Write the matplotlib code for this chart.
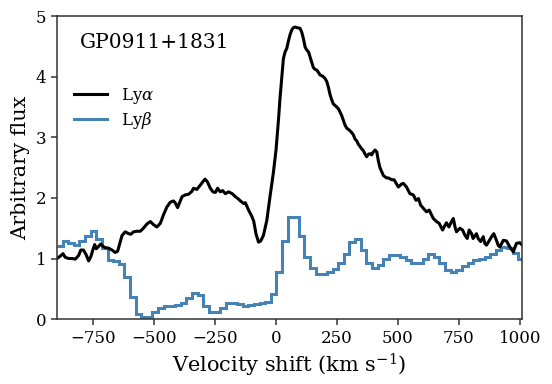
import matplotlib
matplotlib.use('Agg')
import matplotlib.pyplot as plt

# Ly-alpha profile (velocity in km/s, flux)
alpha_v = [-899, -885, -874, -865, -851, -837, -824, -810, -801, -790,
           -779, -769, -760, -751, -744, -738, -728, -719, -710, -701,
           -687, -673, -660, -650, -639, -632, -619, -605, -596, -585,
           -571, -557, -544, -530, -516, -503, -489, -475, -462, -448,
           -434, -421, -414, -404, -393, -386, -373, -359, -345, -339,
           -325, -311, -298, -291, -281, -270, -259, -249, -240, -229,
           -219, -208, -195, -180, -167, -160, -146, -134, -126, -113,
           -100, -92, -82, -72, -63, -52, -38, -25, -11, 0,
           10, 16, 23, 30, 37, 44, 50, 57, 64, 71,
           78, 85, 98, 105, 112, 119, 126, 133, 139, 146,
           153, 160, 167, 174, 180, 191, 201, 208, 215, 221,
           228, 235, 246, 256, 262, 269, 276, 283, 290, 300,
           310, 317, 324, 331, 337, 344, 351, 358, 365, 372,
           378, 385, 392, 399, 406, 413, 419, 426, 440, 453,
           460, 474, 484, 497, 502, 515, 522, 535, 549, 563,
           574, 584, 593, 604, 617, 628, 638, 645, 658, 669,
           683, 693, 699, 709, 720, 727, 734, 740, 754, 765,
           774, 784, 792, 802, 808, 822, 829, 839, 850, 856,
           863, 884, 893, 904, 911, 918, 932, 945, 959, 973,
           986, 1000, 1010]
alpha_f = [1.00, 1.04, 1.08, 1.02, 1.00, 1.00, 0.99, 1.05, 1.14, 1.14,
           1.06, 0.96, 1.03, 1.15, 1.23, 1.16, 1.20, 1.24, 1.20, 1.18,
           1.17, 1.14, 1.10, 1.12, 1.28, 1.38, 1.44, 1.41, 1.40, 1.44,
           1.45, 1.45, 1.50, 1.57, 1.61, 1.56, 1.52, 1.58, 1.72, 1.85,
           1.93, 1.95, 1.92, 1.84, 1.95, 2.02, 2.05, 2.06, 2.11, 2.16,
           2.14, 2.21, 2.28, 2.31, 2.26, 2.16, 2.10, 2.09, 2.16, 2.10,
           2.12, 2.07, 2.10, 2.07, 2.02, 2.00, 1.95, 1.91, 1.92, 1.80,
           1.70, 1.62, 1.40, 1.27, 1.29, 1.38, 1.63, 2.02, 2.42, 2.80,
           3.30, 3.64, 3.97, 4.30, 4.41, 4.47, 4.58, 4.69, 4.77, 4.81,
           4.82, 4.81, 4.80, 4.74, 4.63, 4.49, 4.44, 4.41, 4.33, 4.24,
           4.15, 4.12, 4.11, 4.07, 4.03, 4.01, 3.97, 3.92, 3.82, 3.71,
           3.62, 3.55, 3.51, 3.47, 3.42, 3.36, 3.28, 3.20, 3.15, 3.12,
           3.08, 3.04, 2.97, 2.94, 2.89, 2.85, 2.81, 2.78, 2.72, 2.68,
           2.72, 2.73, 2.71, 2.76, 2.79, 2.76, 2.62, 2.50, 2.37, 2.33,
           2.33, 2.30, 2.30, 2.21, 2.18, 2.23, 2.24, 2.18, 2.07, 2.05,
           1.96, 1.99, 1.88, 1.83, 1.77, 1.80, 1.72, 1.66, 1.61, 1.58,
           1.47, 1.55, 1.59, 1.52, 1.61, 1.66, 1.52, 1.44, 1.50, 1.47,
           1.39, 1.33, 1.47, 1.41, 1.33, 1.41, 1.33, 1.28, 1.36, 1.25,
           1.22, 1.36, 1.41, 1.30, 1.22, 1.19, 1.30, 1.29, 1.19, 1.11,
           1.25, 1.26, 1.22]

# Ly-beta binned profile (bin edges in km/s, flux per bin)
beta_edges = [-899, -876, -853, -830, -807, -784, -761, -737, -714, -691,
              -668, -645, -622, -599, -576, -553, -530, -507, -484, -461,
              -437, -414, -391, -368, -345, -322, -299, -276, -253, -230,
              -207, -184, -161, -137, -114, -91, -68, -45, -22, 1,
              24, 47, 70, 93, 116, 139, 163, 186, 209, 232,
              255, 278, 301, 324, 347, 370, 393, 417, 440, 463,
              486, 509, 532, 555, 578, 601, 624, 647, 670, 693,
              717, 740, 763, 786, 809, 832, 855, 878, 901, 924,
              947, 970, 993, 1016]
beta_f = [1.20, 1.29, 1.26, 1.22, 1.29, 1.37, 1.45, 1.33, 1.18, 0.98,
          0.96, 0.91, 0.70, 0.37, 0.08, 0.04, 0.04, 0.12, 0.19, 0.22,
          0.22, 0.24, 0.27, 0.35, 0.43, 0.39, 0.22, 0.12, 0.12, 0.19,
          0.27, 0.27, 0.25, 0.22, 0.23, 0.25, 0.26, 0.28, 0.42, 0.77,
          1.29, 1.69, 1.69, 1.37, 1.03, 0.84, 0.75, 0.75, 0.77, 0.82,
          0.92, 1.08, 1.28, 1.32, 1.14, 0.92, 0.84, 0.89, 0.99, 1.05,
          1.05, 1.02, 0.97, 0.92, 0.92, 1.00, 1.08, 1.03, 0.92, 0.81,
          0.77, 0.81, 0.87, 0.93, 0.97, 0.99, 1.02, 1.07, 1.14, 1.19,
          1.17, 1.09, 0.99]

plt.rcParams['font.family'] = 'DejaVu Serif'
plt.rcParams['mathtext.fontset'] = 'dejavuserif'

fig = plt.figure(figsize=(5.52, 3.84), dpi=100)
ax = fig.add_axes([0.1027, 0.169, 0.8435, 0.789])

ax.plot(alpha_v, alpha_f, color='black', lw=2.2, label=r'Ly$\alpha$')
ax.stairs(beta_f, beta_edges, baseline=None, color='steelblue', lw=2.2,
          label=r'Ly$\beta$')

ax.set_xlim(-900, 1010)
ax.set_ylim(0, 5)
ax.set_xticks([-750, -500, -250, 0, 250, 500, 750, 1000])
ax.set_yticks([0, 1, 2, 3, 4, 5])

# axis styling
for s in ax.spines.values():
    s.set_color('0.2')
    s.set_linewidth(1.1)
ax.tick_params(direction='out', length=4, width=1.1, color='0.2',
               labelsize=12)

ax.set_xlabel(r'Velocity shift (km s$^{-1}$)', fontsize=15)
ax.set_ylabel('Arbitrary flux', fontsize=15)

ax.text(0.05, 0.913, 'GP0911+1831', transform=ax.transAxes,
        fontsize=14.5, va='center', ha='left')
ax.legend(loc='upper left', bbox_to_anchor=(0.005, 0.82), frameon=False,
          fontsize=12, handlelength=2.0, labelspacing=0.25)

fig.savefig('out.png', dpi=100)
